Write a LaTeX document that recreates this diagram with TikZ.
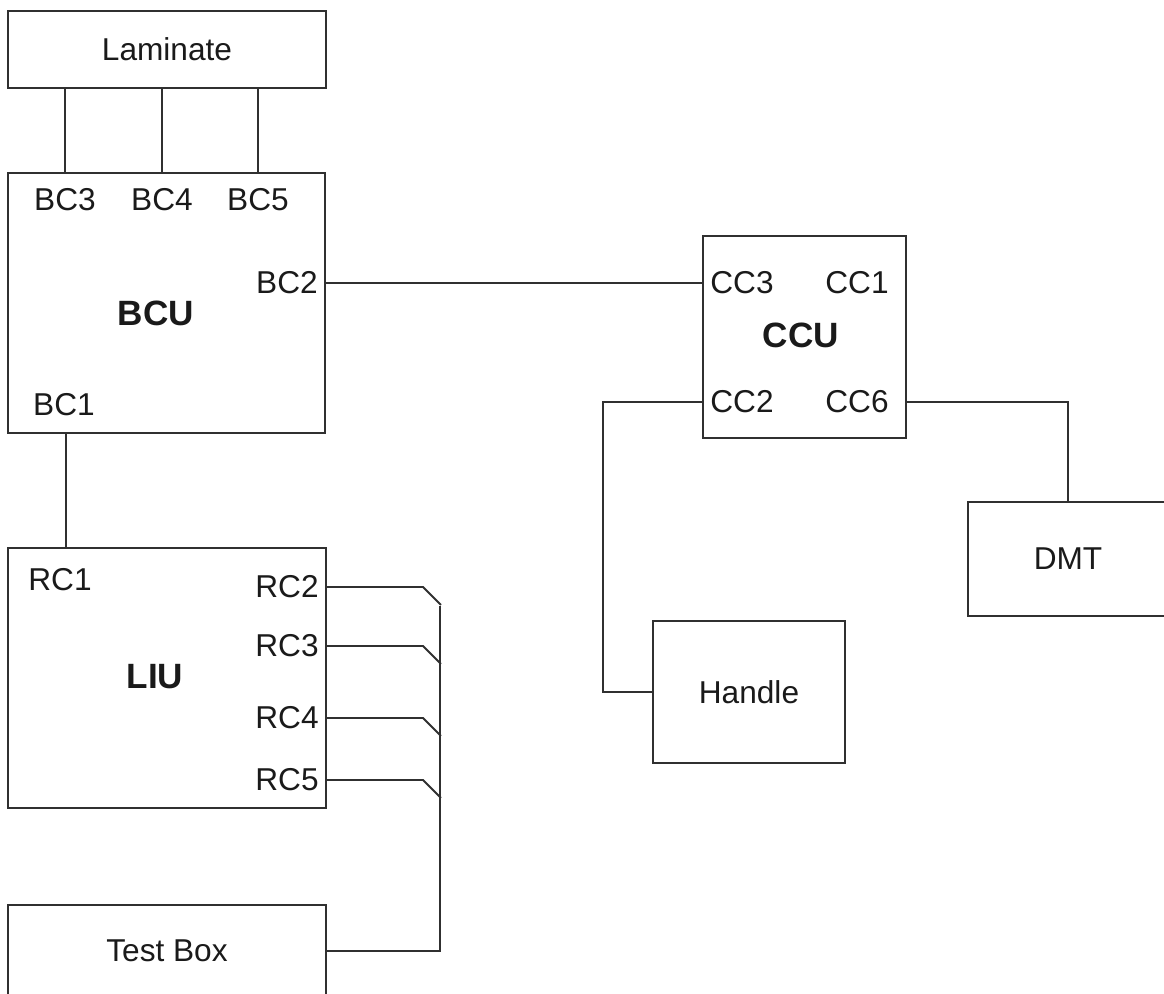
\documentclass[tikz,border=0pt]{standalone}
\usepackage{fontspec}
\setmainfont{Liberation Sans}
\usetikzlibrary{calc}

\begin{document}
\begin{tikzpicture}[
  x=0.02cm,
  y=-0.02cm,
  font=\fontsize{18}{21}\selectfont,
  unit/.style={draw=dmline,line width=1.1pt,inner sep=0pt,align=center,
    text=dmtext},
  port/.style={inner sep=0pt,text=dmtext},
  bold/.style={inner sep=0pt,font=\fontsize{20}{24}\selectfont\bfseries,
    text=dmtext},
  wire/.style={draw=dmline,line width=1.1pt}
]
  \definecolor{dmline}{HTML}{303030}
  \definecolor{dmtext}{HTML}{1A1A1A}

  \clip (0,0) rectangle (1164,994);

  \node[unit,minimum width=6.36cm,minimum height=1.54cm] (lam) at (167,49.5)
    {Laminate};
  \node[unit,minimum width=6.34cm,minimum height=5.20cm] (bcu) at (166.5,303) {};
  \node[unit,minimum width=6.36cm,minimum height=5.20cm] (liu) at (167,678) {};
  \node[unit,minimum width=6.36cm,minimum height=1.84cm] (test) at (167,951)
    {Test Box};
  \node[unit,minimum width=4.06cm,minimum height=4.04cm] (ccu) at (804.5,337) {};
  \node[unit,minimum width=3.84cm,minimum height=2.84cm] (handle) at (749,692)
    {Handle};
  \node[unit,minimum width=4.00cm,minimum height=2.28cm] (dmt) at (1068,559)
    {DMT};

  \node[port] (bc3) at (65,200) {BC3};
  \node[port] (bc4) at (162,200) {BC4};
  \node[port] (bc5) at (258,200) {BC5};
  \node[port] (bc2) at (287,283) {BC2};
  \node[bold] (bcutxt) at (156,313) {BCU};
  \node[port] (bc1) at (64,405) {BC1};

  \node[port] (cc3) at (742,283) {CC3};
  \node[port] (cc1) at (857,283) {CC1};
  \node[bold] (ccutxt) at (801,335) {CCU};
  \node[port] (cc2) at (742,402) {CC2};
  \node[port] (cc6) at (857,402) {CC6};

  \node[port] (rc1) at (60,580) {RC1};
  \node[port] (rc2) at (287,587) {RC2};
  \node[port] (rc3) at (287,646) {RC3};
  \node[bold] (liutxt) at (155,677) {LIU};
  \node[port] (rc4) at (287,718) {RC4};
  \node[port] (rc5) at (287,780) {RC5};

  \coordinate (bus) at (440,606);

  \foreach \p in {bc3,bc4,bc5}
    \draw[wire] (lam.south -| \p) -- (bcu.north -| \p);
  \draw[wire] ($(bcu.south -| bc1)+(2,0)$) -- ($(liu.north -| bc1)+(2,0)$);
  \draw[wire] (bcu.east |- bc2) -- (ccu.west |- bc2);
  \draw[wire] (ccu.west |- cc2) -- ++(-99,0) |- (handle.west);
  \draw[wire] (ccu.east |- cc6) -| (dmt.north);

  \foreach \p in {rc2,rc3,rc4,rc5}
    \draw[wire] (liu.east |- \p) -- ++(96,0) -- ++(18,18);
  \draw[wire] (test.east) -- (test.east -| bus) -- (bus);
\end{tikzpicture}
\end{document}
